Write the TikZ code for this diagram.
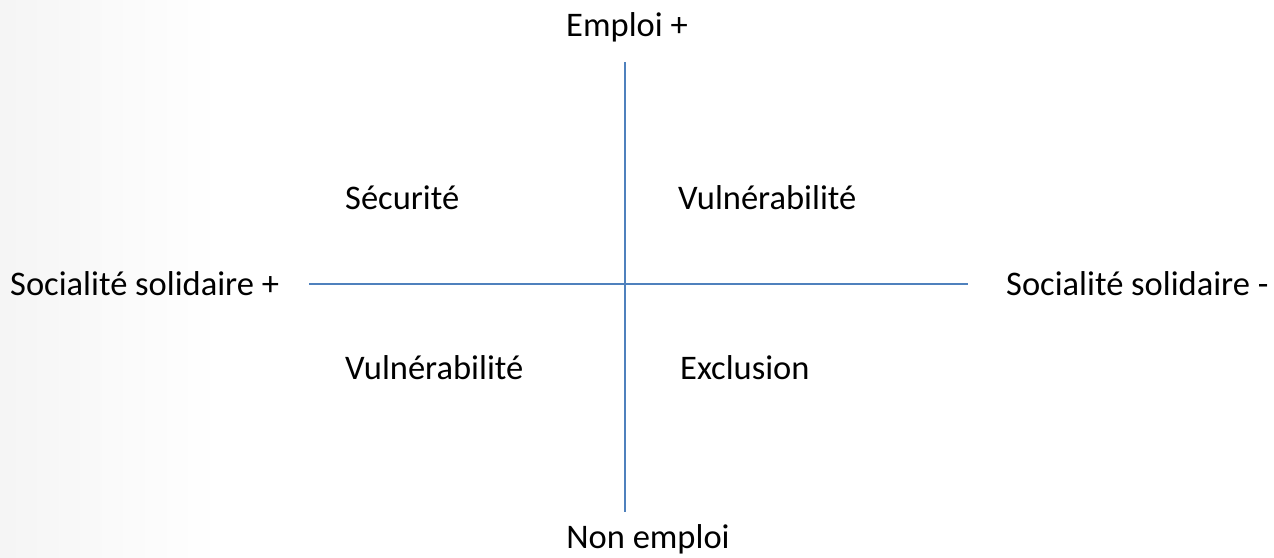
\documentclass[tikz,border=0pt]{standalone}
\usepackage{fontspec}
\setmainfont{Carlito}
\definecolor{axisblue}{HTML}{4F81BD}
\begin{document}
\begin{tikzpicture}[x=1pt,y=-1pt,
  lbl/.style={font=\fontsize{34.5}{40}\selectfont, inner sep=0pt, text=black},
  axis/.style={draw=axisblue, line width=1.6pt}]
\useasboundingbox (0,0) rectangle (1274,557);
\shade[left color=black!4, right color=white, draw=none] (0,0) rectangle (220,557);
\coordinate (L) at (309,284);
\coordinate (R) at (968,284);
\coordinate (T) at (625,62);
\coordinate (B) at (625,512);
\draw[axis] (L) -- (R);
\draw[axis] (T) -- (B);
\node[lbl] (emp) at (627,27) {Emploi +};
\node[lbl] (non) at (648,539) {Non emploi};
\node[lbl, anchor=west] (sgp) at (10,284) {Socialité solidaire +};
\node[lbl, anchor=west] (sgm) at (1006,284) {Socialité solidaire -};
\node[lbl, anchor=west] (sec) at (345,198) {Sécurité};
\node[lbl, anchor=west] (vtr) at (678,198) {Vulnérabilité};
\node[lbl, anchor=west] (vbl) at (345,368) {Vulnérabilité};
\node[lbl, anchor=west] (exc) at (680,368) {Exclusion};
\end{tikzpicture}
\end{document}
